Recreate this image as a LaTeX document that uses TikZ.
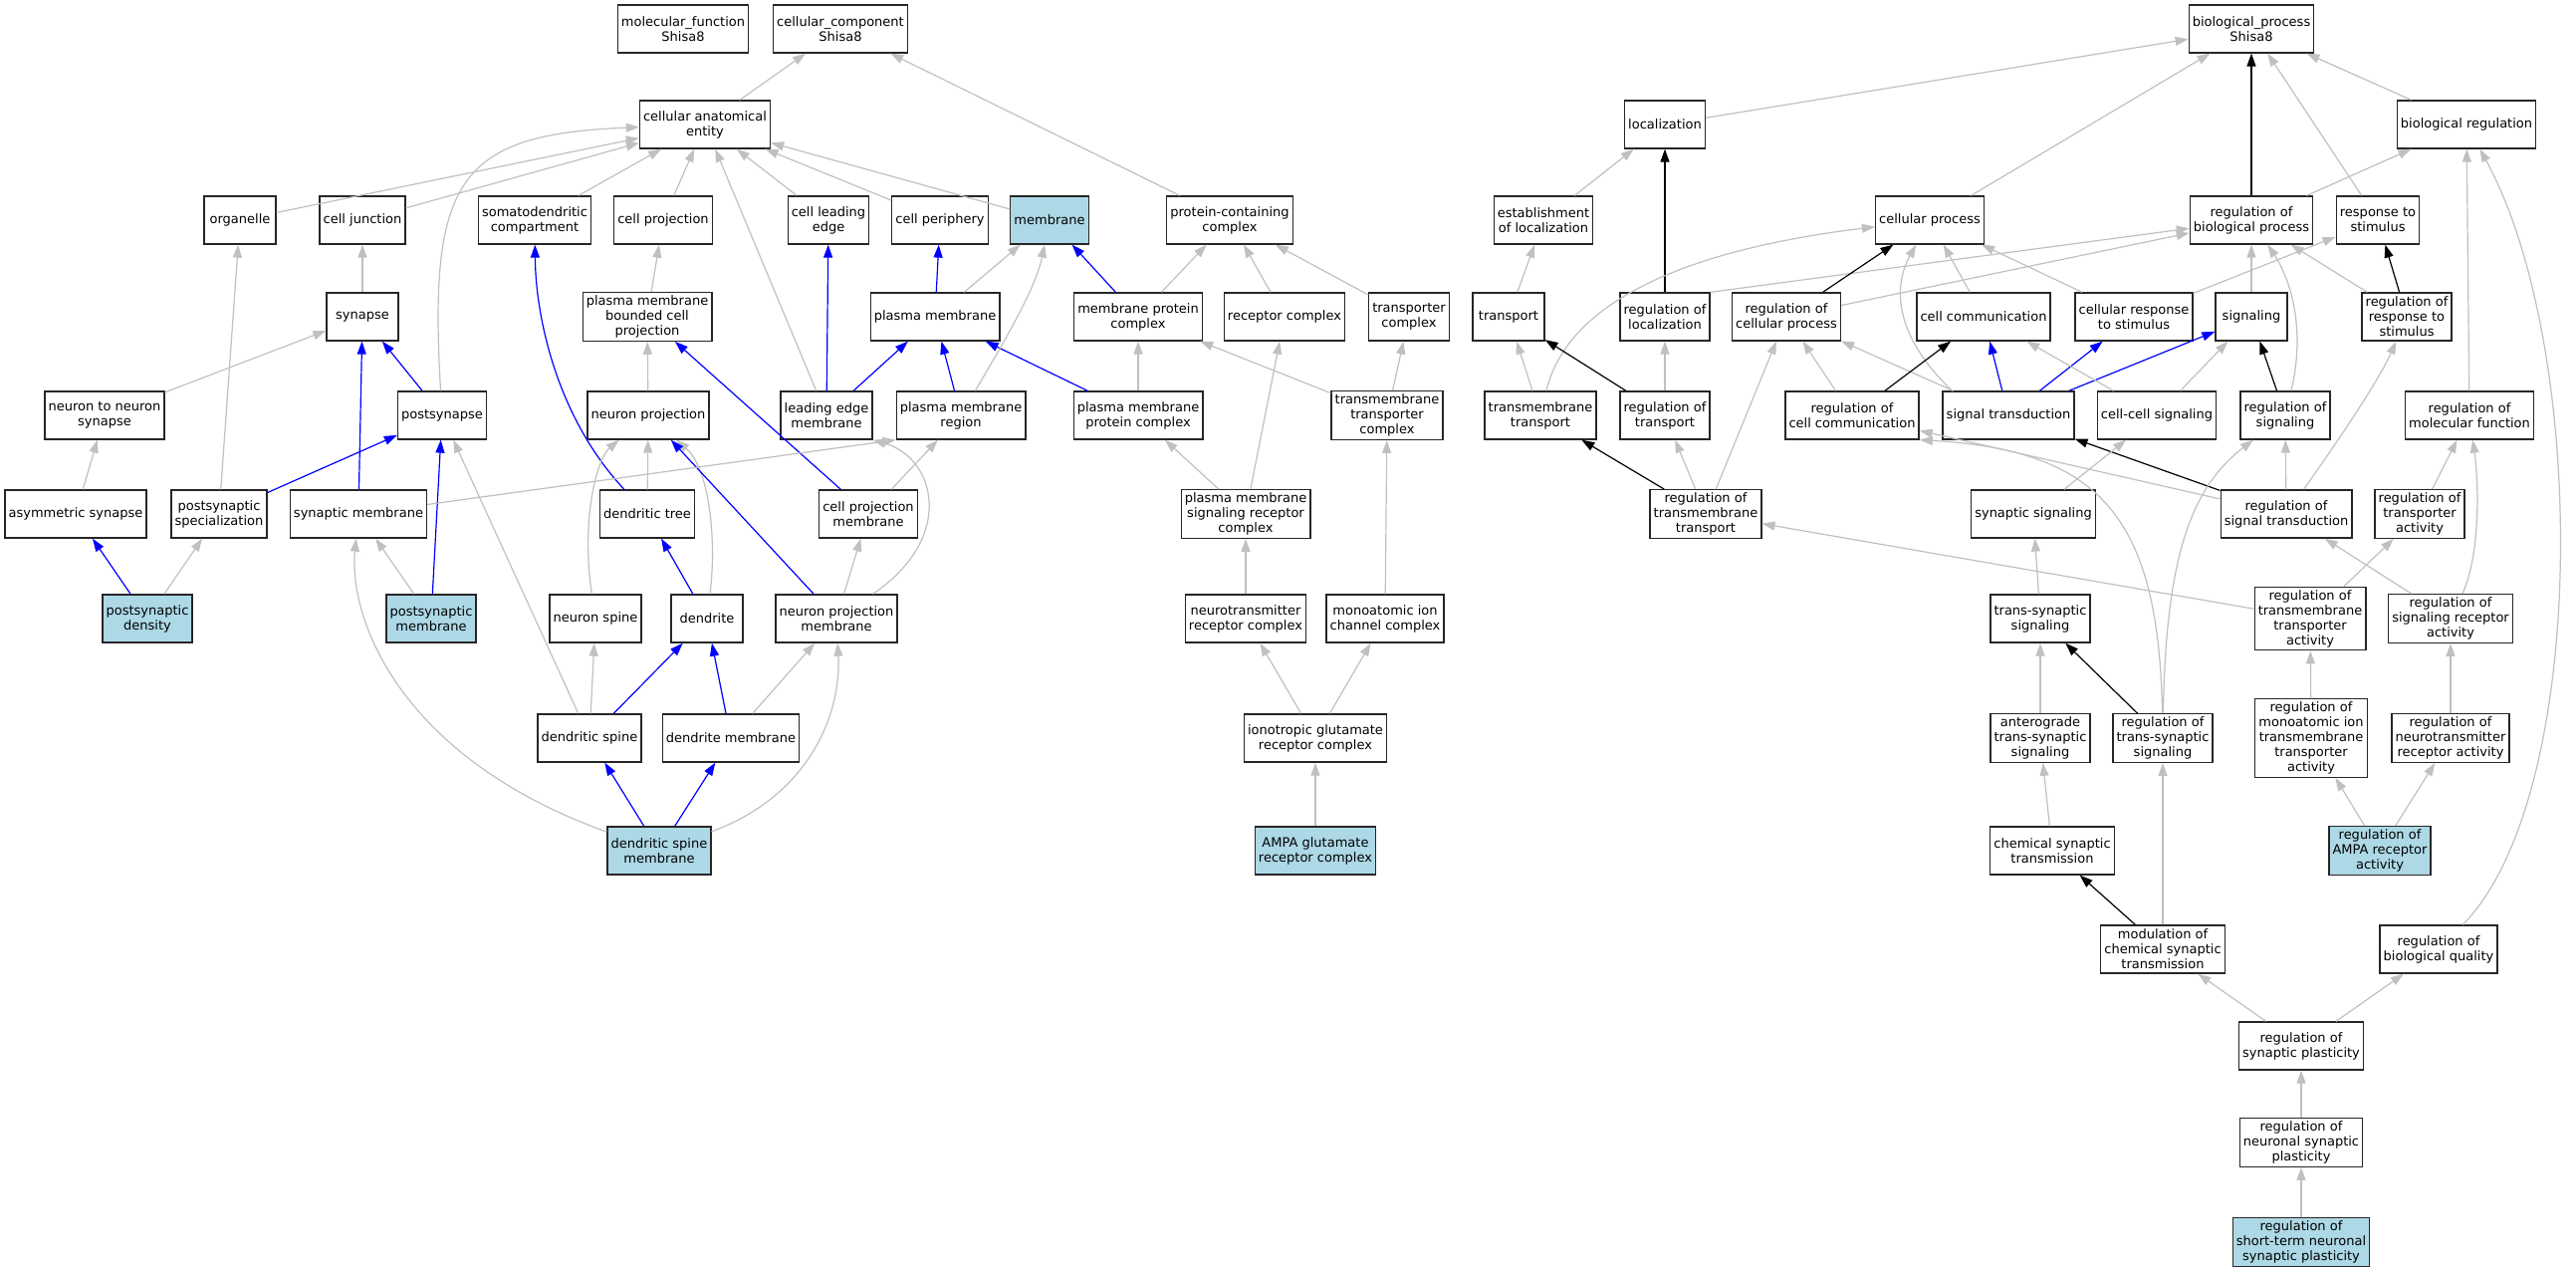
\documentclass[tikz,border=0pt]{standalone}
\usepackage{fontspec}
\setmainfont{DejaVu Sans}
\usetikzlibrary{arrows.meta}
\definecolor{lightblue}{HTML}{ADD8E6}
\definecolor{edgegray}{HTML}{C0C0C0}
\begin{document}
\begin{tikzpicture}[x=0.5pt, y=-0.5pt,
		box/.style={draw=black!85, line width=0.65pt, rectangle, align=center, inner xsep=1.8pt, inner ysep=1.5pt, minimum width=36pt, minimum height=24pt, font=\fontsize{6.5}{7.5}\selectfont},
		hit/.style={box, fill=lightblue},
		gr/.style={draw=edgegray, line width=0.6pt, -{Triangle[length=6.5pt,width=4.5pt]}},
		bl/.style={gr, draw=blue},
		bk/.style={gr, draw=black}]
		\useasboundingbox (0,0) rectangle (2587,1277);
		\node (1)[box] at (686,29) {molecular\_function\\Shisa8};
		\node (2)[box] at (844,29) {cellular\_component\\Shisa8};
		\node (3)[box] at (2261,29) {biological\_process\\Shisa8};
		\node (4)[box] at (708,125) {cellular anatomical\\entity};
		\node (5)[box] at (1672,125) {localization};
		\node (6)[box] at (2477,125) {biological regulation};
		\node (7)[box] at (241,221) {organelle};
		\node (8)[box] at (364,221) {cell junction};
		\node (9)[box] at (537,221) {somatodendritic\\compartment};
		\node (10)[box] at (666,221) {cell projection};
		\node (11)[box] at (832,221) {cell leading\\edge};
		\node (12)[box] at (944,221) {cell periphery};
		\node (13)[hit] at (1054,221) {membrane};
		\node (14)[box] at (1235,221) {protein-containing\\complex};
		\node (15)[box] at (1550,221) {establishment\\of localization};
		\node (16)[box] at (1938,221) {cellular process};
		\node (17)[box] at (2261,221) {regulation of\\biological process};
		\node (18)[box] at (2388,221) {response to\\stimulus};
		\node (19)[box] at (364,318) {synapse};
		\node (20)[box] at (650,318) {plasma membrane\\bounded cell\\projection};
		\node (21)[box] at (939,318) {plasma membrane};
		\node (22)[box] at (1143,318) {membrane protein\\complex};
		\node (23)[box] at (1290,318) {receptor complex};
		\node (24)[box] at (1415,318) {transporter\\complex};
		\node (25)[box] at (1515,318) {transport};
		\node (26)[box] at (1672,318) {regulation of\\localization};
		\node (27)[box] at (1794,318) {regulation of\\cellular process};
		\node (28)[box] at (1992,318) {cell communication};
		\node (29)[box] at (2143,318) {cellular response\\to stimulus};
		\node (30)[box] at (2261,318) {signaling};
		\node (31)[box] at (2417,318) {regulation of\\response to\\stimulus};
		\node (32)[box] at (105,417) {neuron to neuron\\synapse};
		\node (33)[box] at (444,417) {postsynapse};
		\node (34)[box] at (651,417) {neuron projection};
		\node (35)[box] at (830,417) {leading edge\\membrane};
		\node (36)[box] at (965,417) {plasma membrane\\region};
		\node (37)[box] at (1143,417) {plasma membrane\\protein complex};
		\node (38)[box] at (1393,417) {transmembrane\\transporter\\complex};
		\node (39)[box] at (1547,417) {transmembrane\\transport};
		\node (40)[box] at (1672,417) {regulation of\\transport};
		\node (41)[box] at (1860,417) {regulation of\\cell communication};
		\node (42)[box] at (2017,417) {signal transduction};
		\node (43)[box] at (2166,417) {cell-cell signaling};
		\node (44)[box] at (2295,417) {regulation of\\signaling};
		\node (45)[box] at (2480,417) {regulation of\\molecular function};
		\node (46)[box] at (76,516) {asymmetric synapse};
		\node (47)[box] at (220,516) {postsynaptic\\specialization};
		\node (48)[box] at (360,516) {synaptic membrane};
		\node (49)[box] at (650,516) {dendritic tree};
		\node (50)[box] at (872,516) {cell projection\\membrane};
		\node (51)[box] at (1251,516) {plasma membrane\\signaling receptor\\complex};
		\node (52)[box] at (1713,516) {regulation of\\transmembrane\\transport};
		\node (53)[box] at (2042,516) {synaptic signaling};
		\node (54)[box] at (2296,516) {regulation of\\signal transduction};
		\node (55)[box] at (2430,516) {regulation of\\transporter\\activity};
		\node (56)[hit] at (148,621) {postsynaptic\\density};
		\node (57)[hit] at (433,621) {postsynaptic\\membrane};
		\node (58)[box] at (598,621) {neuron spine};
		\node (59)[box] at (710,621) {dendrite};
		\node (60)[box] at (840,621) {neuron projection\\membrane};
		\node (61)[box] at (1251,621) {neurotransmitter\\receptor complex};
		\node (62)[box] at (1391,621) {monoatomic ion\\channel complex};
		\node (63)[box] at (2049,621) {trans-synaptic\\signaling};
		\node (64)[box] at (2320,621) {regulation of\\transmembrane\\transporter\\activity};
		\node (65)[box] at (2461,621) {regulation of\\signaling receptor\\activity};
		\node (66)[box] at (592,741) {dendritic spine};
		\node (67)[box] at (734,741) {dendrite membrane};
		\node (68)[box] at (1321,741) {ionotropic glutamate\\receptor complex};
		\node (69)[box] at (2049,741) {anterograde\\trans-synaptic\\signaling};
		\node (70)[box] at (2172,741) {regulation of\\trans-synaptic\\signaling};
		\node (71)[box] at (2321,741) {regulation of\\monoatomic ion\\transmembrane\\transporter\\activity};
		\node (72)[box] at (2461,741) {regulation of\\neurotransmitter\\receptor activity};
		\node (73)[hit] at (662,854) {dendritic spine\\membrane};
		\node (74)[hit] at (1321,854) {AMPA glutamate\\receptor complex};
		\node (75)[box] at (2061,854) {chemical synaptic\\transmission};
		\node (76)[hit] at (2390,854) {regulation of\\AMPA receptor\\activity};
		\node (77)[box] at (2172,953) {modulation of\\chemical synaptic\\transmission};
		\node (78)[box] at (2449,953) {regulation of\\biological quality};
		\node (79)[box] at (2311,1050) {regulation of\\synaptic plasticity};
		\node (80)[box] at (2311,1147) {regulation of\\neuronal synaptic\\plasticity};
		\node (81)[hit] at (2311,1247) {regulation of\\short-term neuronal\\synaptic plasticity};
		% cellular component
		\draw[gr] (4)--(2);
		\draw[gr] (14)--(2);
		\draw[gr] (7)--(4);
		\draw[gr] (8)--(4);
		\draw[gr] (33) .. controls (430,180) and (460,135) .. (4);
		\draw[gr] (9)--(4);
		\draw[gr] (10)--(4);
		\draw[gr] (35)--(4);
		\draw[gr] (11)--(4);
		\draw[gr] (12)--(4);
		\draw[gr] (13)--(4);
		\draw[gr] (19)--(8);
		\draw[gr] (32)--(19);
		\draw[gr] (47)--(7);
		\draw[bl] (48)--(19);
		\draw[bl] (33)--(19);
		\draw[bl] (47)--(33);
		\draw[gr] (46)--(32);
		\draw[bl] (56)--(46);
		\draw[gr] (56)--(47);
		\draw[gr] (57)--(48);
		\draw[bl] (57)--(33);
		\draw[gr] (66)--(33);
		\draw[gr] (73) .. controls (400,760) and (350,620) .. (48);
		\draw[bl] (49) .. controls (560,420) and (538,320) .. (9);
		\draw[gr] (20)--(10);
		\draw[gr] (34)--(20);
		\draw[bl] (50)--(20);
		\draw[gr] (49)--(34);
		\draw[gr] (58) .. controls (583,520) and (600,460) .. (34);
		\draw[gr] (59) .. controls (720,540) and (712,470) .. (34);
		\draw[bl] (60)--(34);
		\draw[gr] (48)--(36.south west);
		\draw[bl] (59)--(49);
		\draw[gr] (66)--(58);
		\draw[bl] (66)--(59);
		\draw[bl] (67)--(59);
		\draw[gr] (67)--(60);
		\draw[bl] (73)--(66);
		\draw[bl] (73)--(67);
		\draw[gr] (73) .. controls (810,800) and (845,720) .. (60);
		\draw[gr] (50)--(36);
		\draw[gr] (60)--(50);
		\draw[gr] (60) .. controls (960,540) and (940,460) .. (35.south east);
		\draw[bl] (35)--(11);
		\draw[bl] (35)--(21);
		\draw[bl] (36)--(21);
		\draw[bl] (37)--(21);
		\draw[bl] (21)--(12);
		\draw[gr] (21)--(13);
		\draw[gr] (36) .. controls (1010,340) and (1040,290) .. (13);
		\draw[bl] (22)--(13);
		\draw[gr] (22)--(14);
		\draw[gr] (23)--(14);
		\draw[gr] (24)--(14);
		\draw[gr] (37)--(22);
		\draw[gr] (38)--(22);
		\draw[gr] (38)--(24);
		\draw[gr] (51)--(37);
		\draw[gr] (51)--(23);
		\draw[gr] (61)--(51);
		\draw[gr] (62)--(38);
		\draw[gr] (68)--(61);
		\draw[gr] (68)--(62);
		\draw[gr] (74)--(68);
		% biological process
		\draw[gr] (5)--(3);
		\draw[gr] (16)--(3);
		\draw[bk] (17)--(3);
		\draw[gr] (18)--(3);
		\draw[gr] (6)--(3);
		\draw[gr] (15)--(5);
		\draw[bk] (26)--(5);
		\draw[gr] (17)--(6);
		\draw[gr] (45)--(6);
		\draw[gr] (78) .. controls (2600,800) and (2600,350) .. (6);
		\draw[gr] (25)--(15);
		\draw[gr] (39)--(25);
		\draw[gr] (39) .. controls (1575,300) and (1700,250) .. (16);
		\draw[bk] (40)--(25);
		\draw[gr] (40)--(26);
		\draw[gr] (26.north east)--(17);
		\draw[gr] (29)--(18);
		\draw[bk] (27)--(16);
		\draw[gr] (27)--(17);
		\draw[gr] (28)--(16);
		\draw[gr] (29)--(16);
		\draw[gr] ([xshift=5pt]42.north west) .. controls (1895,330) and (1905,280) .. (16);
		\draw[gr] (42)--(27);
		\draw[gr] (41)--(27);
		\draw[bk] (41)--(28);
		\draw[bl] (42)--(28);
		\draw[bl] (42)--(29);
		\draw[bl] (42)--(30);
		\draw[gr] (43)--(28);
		\draw[gr] (43)--(30);
		\draw[gr] (30)--(17);
		\draw[gr] (44) .. controls (2316,330) and (2300,280) .. (17);
		\draw[bk] (44)--(30);
		\draw[gr] (31)--(17);
		\draw[bk] (31)--(18);
		\draw[bk] (54)--(42);
		\draw[gr] (54)--(44);
		\draw[gr] (54) .. controls (2350,440) and (2390,380) .. (31);
		\draw[gr] (54)--(41);
		\draw[gr] (70) .. controls (2168,520) and (2110,452) .. (41.south east);
		\draw[gr] (70) .. controls (2175,560) and (2200,490) .. (44);
		\draw[bk] (70)--(63);
		\draw[gr] (53)--(43);
		\draw[gr] (63)--(53);
		\draw[gr] (69)--(63);
		\draw[gr] (75)--(69);
		\draw[bk] (77)--(75);
		\draw[gr] (77)--(70);
		\draw[gr] (79)--(77);
		\draw[gr] (79)--(78);
		\draw[gr] (80)--(79);
		\draw[gr] (81)--(80);
		\draw[bk] (52)--(39);
		\draw[gr] (52)--(40);
		\draw[gr] (52)--(27);
		\draw[gr] (64)--(52);
		\draw[gr] (64)--(55);
		\draw[gr] (55)--(45);
		\draw[gr] (65)--(54);
		\draw[gr] (65) .. controls (2490,560) and (2490,490) .. (45);
		\draw[gr] (71)--(64);
		\draw[gr] (72)--(65);
		\draw[gr] (76)--(71);
		\draw[gr] (76)--(72);
	\end{tikzpicture}
\end{document}
